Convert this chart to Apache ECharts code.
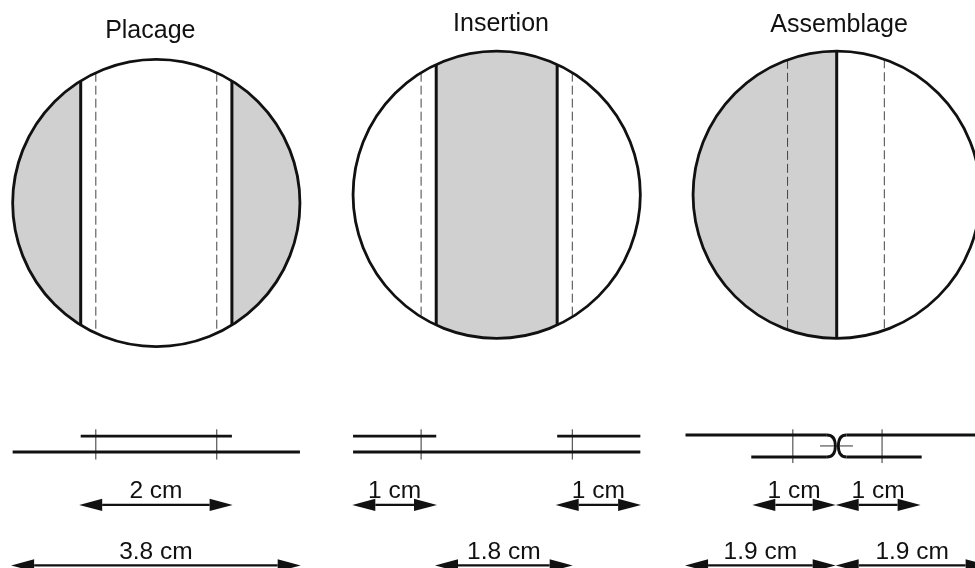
<!DOCTYPE html>
<html><head><meta charset="utf-8">
<style>html,body{margin:0;padding:0;background:#fff}#c{width:975px;height:568px;overflow:hidden}</style>
<script src="https://cdn.jsdelivr.net/npm/echarts@6/dist/echarts.min.js"></script>
</head><body><div id="c"></div>
<script>
// All values are in centimetres.
const panelNames = ['Placage', 'Insertion', 'Assemblage'];
const discDiameter = [3.8, 3.8, 3.8];
const seams = [[-1, 1], [-0.8, 0.8], [0]];
const folds = [[-0.8, 0.8], [-1, 1], [-0.65, 0.63]];
const shadedBands = [[[-1.9, -1], [1, 1.9]], [[-0.8, 0.8]], [[-1.9, 0]]];
// profile sheets: [from, to, height]
const sheets = [
  [[-1.9, 1.9, 0], [-1, 1, 0.21]],
  [[-1.9, 1.9, 0], [-1.9, -0.8, 0.21], [0.8, 1.9, 0.21]],
  [[-2, -0.13, 0.225], [0.13, 2.1, 0.225], [-1.13, -0.13, -0.066], [0.13, 1.124, -0.066]]
];
// fold marks: [x, top, bottom]
const foldMarks = [
  [[-0.8, 0.3, -0.1], [0.8, 0.3, -0.1]],
  [[-1, 0.3, -0.1], [1, 0.3, -0.1]],
  [[-0.58, 0.3, -0.146], [0.6, 0.3, -0.146]]
];
const jointMark = [-0.22, 0.215, 0.08];
// joint curves: [x0,y0, cx,cy, x1,y1]
const jointCurves = [
  [-0.13, 0.225, -0.018, 0.225, -0.018, 0.08],
  [-0.018, 0.08, -0.018, -0.066, -0.13, -0.066],
  [0.13, 0.225, 0.022, 0.225, 0.022, 0.08],
  [0.022, 0.08, 0.022, -0.066, 0.13, -0.066]
];
// dimensions: [from, to, height]
const dimensions = [
  [[-1.02, 1.01, -0.7], [-1.92, 1.91, -1.5]],
  [[-1.91, -0.79, -0.7], [0.78, 1.91, -0.7], [-0.816, 1.005, -1.5]],
  [[-1.116, -0.013, -0.7], [-0.013, 1.11, -0.7], [-2.006, -0.013, -1.5], [-0.013, 2.01, -1.5]]
];
const dimensionLabels = [
  ['2 cm', '3.8 cm'],
  ['1 cm', '1 cm', '1.8 cm'],
  ['1 cm', '1 cm', '1.9 cm', '1.9 cm']
];

// layout (pixels)
const W = 975, H = 568;
const PX_PER_CM = 75.6, HALF = 2;
const centreX = [156.3, 496.7, 836.7];
const discCentreY = [203, 194.8, 194.8];
const profileBaseY = 452;
const titleX = [150.3, 501, 839];
const titleTop = [19, 12, 13];
const INK = '#111', GREY = '#d0d0d0', FONT = '"Liberation Sans", Arial, sans-serif';

const grid = [], xAxis = [], yAxis = [], series = [];
// Each grid stays inside the canvas: the axis ranges are cut to the part that fits.
function addGrid(cx, cy) {
  const left = Math.max(0, cx - HALF * PX_PER_CM), right = Math.min(W, cx + HALF * PX_PER_CM);
  const top = Math.max(0, cy - HALF * PX_PER_CM), bottom = Math.min(H, cy + HALF * PX_PER_CM);
  grid.push({left, top, width: right - left, height: bottom - top});
  const g = grid.length - 1;
  xAxis.push({type: 'value', show: false, gridIndex: g, min: (left - cx) / PX_PER_CM, max: (right - cx) / PX_PER_CM});
  yAxis.push({type: 'value', show: false, gridIndex: g, min: (cy - bottom) / PX_PER_CM, max: (cy - top) / PX_PER_CM});
  return g;
}
function custom(g, data, renderItem, z) {
  series.push({type: 'custom', coordinateSystem: 'cartesian2d', xAxisIndex: g, yAxisIndex: g,
    clip: false, silent: true, animation: false, z, data, renderItem});
}
const segment = (lineWidth, stroke, lineDash) => (p, api) => {
  const a = api.coord([api.value(0), api.value(1)]), b = api.coord([api.value(2), api.value(3)]);
  return {type: 'line', shape: {x1: a[0], y1: a[1], x2: b[0], y2: b[1]},
          style: {stroke, lineWidth, lineDash, fill: null}};
};

panelNames.forEach((name, i) => {
  const top = addGrid(centreX[i], discCentreY[i]);
  const r = discDiameter[i] / 2;
  const chord = x => Math.sqrt(Math.max(0, r * r - x * x));
  const outline = (fill, stroke, lineWidth) => (p, api) => {
    const c = api.coord([0, 0]), e = api.coord([api.value(0), 0]);
    return {type: 'circle', shape: {cx: c[0], cy: c[1], r: e[0] - c[0]}, style: {fill, stroke, lineWidth}};
  };
  custom(top, [[r]], outline('#fff', null, 0), 1);
  custom(top, shadedBands[i], (p, api) => {
    const x0 = api.value(0), x1 = api.value(1), pts = [], n = 60;
    for (let k = 0; k <= n; k++) { const x = x0 + (x1 - x0) * k / n; pts.push(api.coord([x, chord(x)])); }
    for (let k = n; k >= 0; k--) { const x = x0 + (x1 - x0) * k / n; pts.push(api.coord([x, -chord(x)])); }
    return {type: 'polygon', shape: {points: pts}, style: {fill: GREY, stroke: null}};
  }, 2);
  custom(top, [[r]], outline(null, INK, 2.8), 5);
  custom(top, seams[i].map(x => [x, chord(x), x, -chord(x)]), segment(3, INK), 4);
  custom(top, folds[i].map(x => [x, chord(x), x, -chord(x)]), segment(1, '#444', [9, 4]), 3);

  const low = addGrid(centreX[i], profileBaseY);
  custom(low, sheets[i].map(s => [s[0], s[2], s[1], s[2]]), segment(2.8, INK), 4);
  custom(low, foldMarks[i].map(m => [m[0], m[1], m[0], m[2]]), segment(1, '#333'), 3);
  if (i === 2) {
    custom(low, [[jointMark[0], jointMark[2], jointMark[1], jointMark[2]]], segment(1, '#333'), 3);
    custom(low, jointCurves, (p, api) => {
      const a = api.coord([api.value(0), api.value(1)]), c = api.coord([api.value(2), api.value(3)]),
            b = api.coord([api.value(4), api.value(5)]);
      return {type: 'bezierCurve', shape: {x1: a[0], y1: a[1], cpx1: c[0], cpy1: c[1], x2: b[0], y2: b[1]},
              style: {stroke: INK, lineWidth: 2.8, fill: null}};
    }, 4);
  }
  custom(low, dimensions[i].map((d, k) => [d[0], d[1], d[2], dimensionLabels[i][k]]), (p, api) => {
    const a = api.coord([api.value(0), api.value(2)]), b = api.coord([api.value(1), api.value(2)]);
    const HL = 23, HW = 6.2, y = a[1];
    return {type: 'group', children: [
      {type: 'text', z2: 1, style: {text: api.value(3), x: (a[0] + b[0]) / 2, y: y - 1, align: 'center',
        verticalAlign: 'bottom', font: '24.5px ' + FONT, fill: INK}},
      {type: 'line', z2: 2, shape: {x1: a[0] + HL, y1: y, x2: b[0] - HL, y2: y}, style: {stroke: INK, lineWidth: 2.2}},
      {type: 'polygon', z2: 2, shape: {points: [[a[0], y], [a[0] + HL, y - HW], [a[0] + HL, y + HW]]}, style: {fill: INK}},
      {type: 'polygon', z2: 2, shape: {points: [[b[0], y], [b[0] - HL, y - HW], [b[0] - HL, y + HW]]}, style: {fill: INK}}
    ]};
  }, 6);
});

const chart = echarts.init(document.getElementById('c'), null, {renderer: 'canvas'});
chart.setOption({
  animation: false,
  backgroundColor: '#fff',
  title: panelNames.map((text, i) => ({text, left: titleX[i], top: titleTop[i], padding: 0, textAlign: 'center',
    textStyle: {fontFamily: FONT, fontSize: 25, fontWeight: 'normal', color: INK}})),
  grid, xAxis, yAxis, series
});
</script></body></html>
